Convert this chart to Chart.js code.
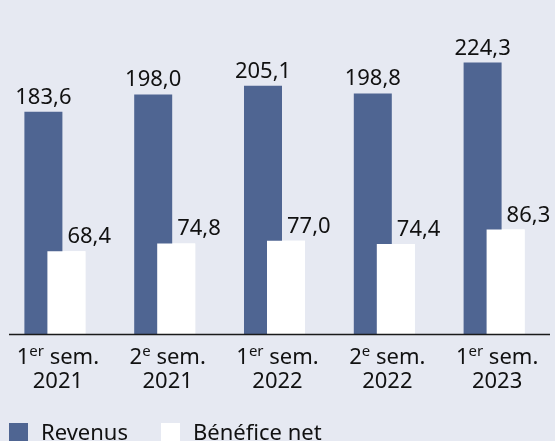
<!DOCTYPE html>
<html>
<head>
<meta charset="utf-8">
<script src="https://cdn.jsdelivr.net/npm/chart.js@4/dist/chart.umd.min.js"></script>
<style>
  html, body { margin: 0; padding: 0; background: #e6e9f2; overflow: hidden; }
  #wrap { position: relative; width: 555px; height: 441px; }
</style>
</head>
<body>
<div id="wrap"><canvas id="chart" width="555" height="441"></canvas></div>
<script>
// semester labels: [number, superscript, rest, year]
const periods = [
    ['1', 'er', ' sem.', '2021'],
    ['2', 'e', ' sem.', '2021'],
    ['1', 'er', ' sem.', '2022'],
    ['2', 'e', ' sem.', '2022'],
    ['1', 'er', ' sem.', '2023']
];
const revenus = [183.6, 198.0, 205.1, 198.8, 224.3];
const beneficeNet = [68.4, 74.8, 77.0, 74.4, 86.3];

const FONT = '"Noto Sans", "Open Sans", sans-serif';
const BLUE = '#4f6592';

function fmt(v) {
    return v.toFixed(1).replace('.', ',');
}

const customDraw = {
    id: 'customDraw',
    afterDatasetsDraw(chart) {
        const ctx = chart.ctx;
        // white bars overlap the blue ones, so draw them again on top
        chart.getDatasetMeta(1).data.forEach(el => el.draw(ctx));

        const y0 = chart.scales.y.getPixelForValue(0);
        ctx.save();
        ctx.strokeStyle = '#1a1a1a';
        ctx.lineWidth = 1.5;
        ctx.beginPath();
        ctx.moveTo(chart.chartArea.left + 9, y0 + 0.5);
        ctx.lineTo(chart.chartArea.right + 1, y0 + 0.5);
        ctx.stroke();

        // value labels
        ctx.fillStyle = '#111';
        ctx.font = '22px ' + FONT;
        ctx.textBaseline = 'alphabetic';
        chart.getDatasetMeta(0).data.forEach((el, i) => {
            ctx.textAlign = 'center';
            ctx.fillText(fmt(revenus[i]), el.x, el.y - 8);
        });
        chart.getDatasetMeta(1).data.forEach((el, i) => {
            ctx.textAlign = 'left';
            ctx.fillText(fmt(beneficeNet[i]), el.x + 1, el.y - 8);
        });

        // category labels with superscripts
        const xs = chart.scales.x;
        periods.forEach((p, i) => {
            const cx = xs.getPixelForValue(i) + 3;
            ctx.font = '22px ' + FONT;
            const w1 = ctx.measureText(p[0]).width;
            const w3 = ctx.measureText(p[2]).width;
            ctx.font = '15px ' + FONT;
            const w2 = ctx.measureText(p[1]).width;
            let x = cx - (w1 + w2 + w3) / 2;
            ctx.textAlign = 'left';
            ctx.font = '22px ' + FONT;
            ctx.fillText(p[0], x, 364);
            x += w1;
            ctx.font = '15px ' + FONT;
            ctx.fillText(p[1], x, 356);
            x += w2;
            ctx.font = '22px ' + FONT;
            ctx.fillText(p[2], x, 364);
            ctx.textAlign = 'center';
            ctx.fillText(p[3], cx, 388);
        });

        // legend
        const items = chart.data.datasets;
        const boxX = [9, 161];
        items.forEach((ds, i) => {
            ctx.fillStyle = ds.backgroundColor;
            ctx.fillRect(boxX[i], 423, 19, 19);
            ctx.fillStyle = '#111';
            ctx.textAlign = 'left';
            ctx.font = '22px ' + FONT;
            ctx.fillText(ds.label, boxX[i] + 32, 440);
        });
        ctx.restore();
    }
};

const ctx = document.getElementById('chart').getContext('2d');

const chart = new Chart(ctx, {
    type: 'bar',
    data: {
        labels: periods.map(p => p[0] + p[1] + p[2] + ' ' + p[3]),
        datasets: [
            {
                label: 'Revenus',
                data: revenus,
                backgroundColor: BLUE,
                borderWidth: 0,
                categoryPercentage: 0.419,
                barPercentage: 1.652
            },
            {
                label: 'Bénéfice net',
                data: beneficeNet,
                backgroundColor: '#ffffff',
                borderWidth: 0,
                categoryPercentage: 0.419,
                barPercentage: 1.652
            }
        ]
    },
    options: {
        responsive: false,
        animation: false,
        layout: { padding: { left: 0, right: 6, top: 0, bottom: 107 } },
        plugins: {
            legend: { display: false },
            tooltip: { enabled: false }
        },
        scales: {
            x: { display: false },
            y: { display: false, min: 0, max: 276 }
        }
    },
    plugins: [customDraw]
});
</script>
</body>
</html>
